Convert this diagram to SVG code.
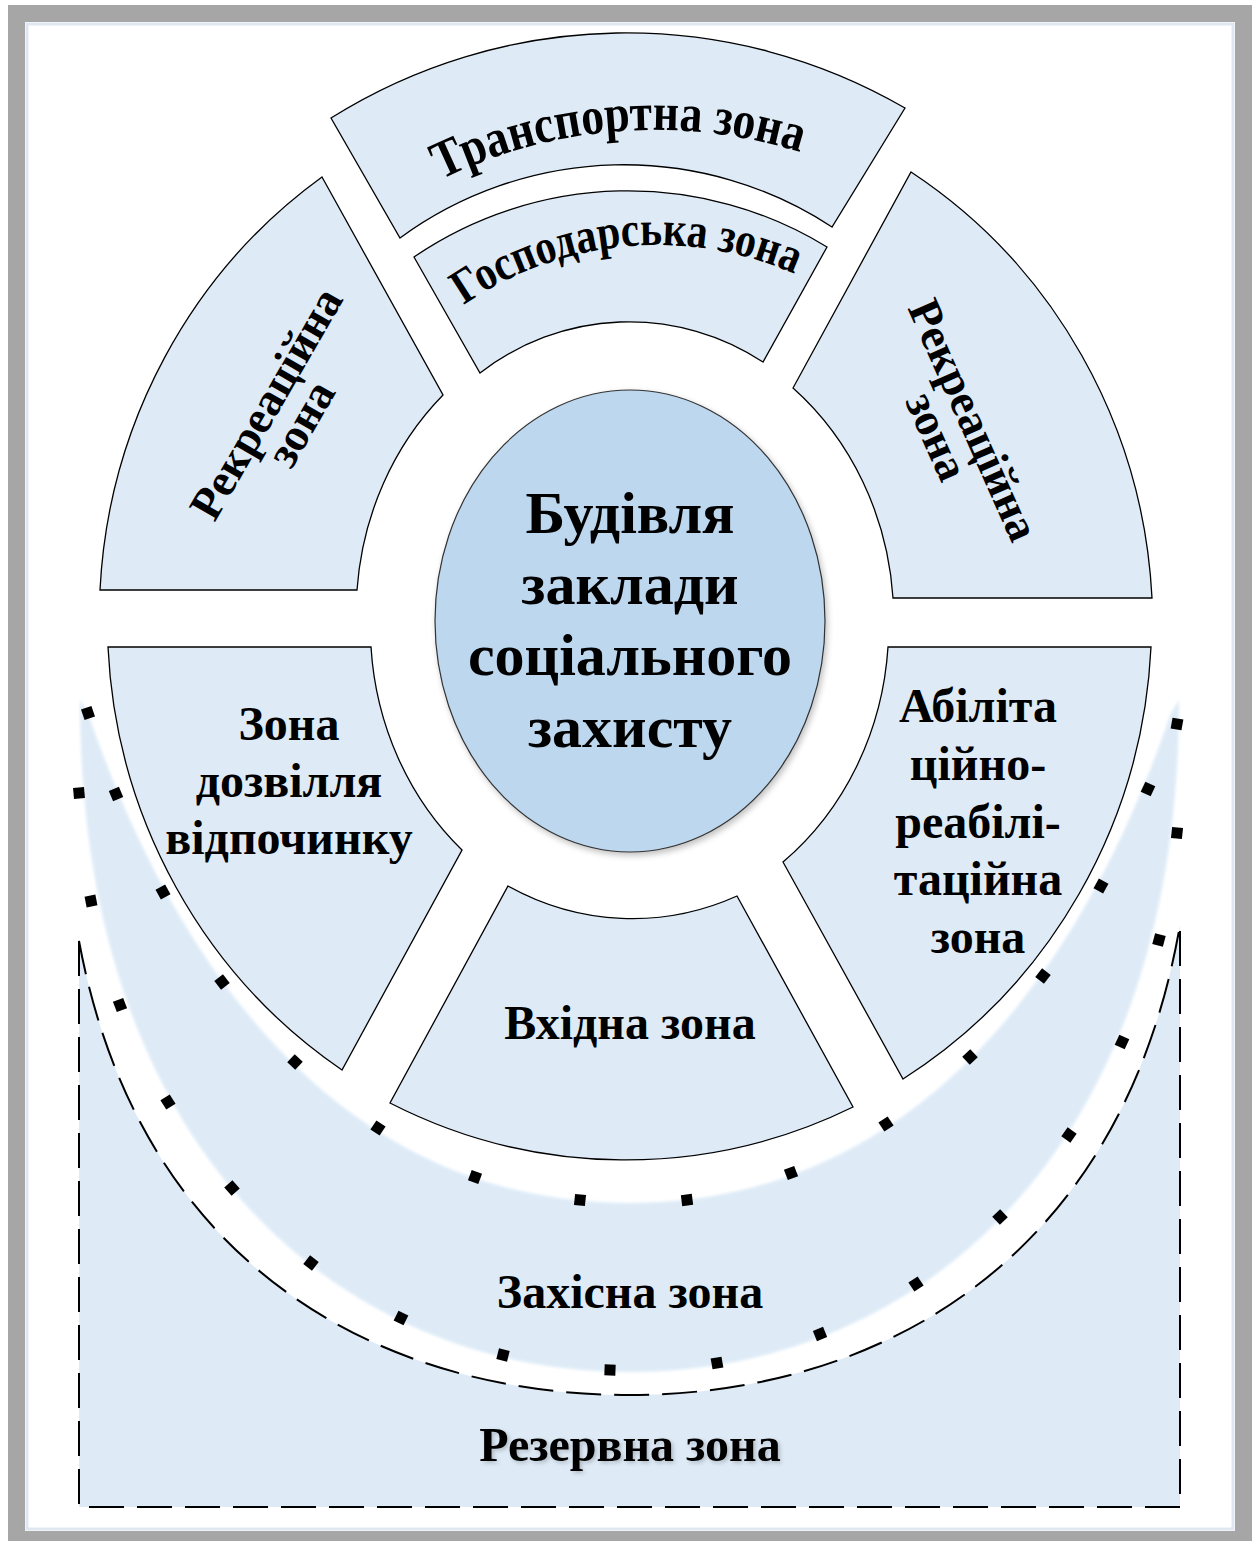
<svg xmlns="http://www.w3.org/2000/svg" xmlns:xlink="http://www.w3.org/1999/xlink" width="1259" height="1541" viewBox="0 0 1259 1541">
  <defs>
    <style>
      .zone { fill: #deebf7; stroke: #000; stroke-width: 1.3; }
      .core { fill: #bdd7ee; stroke: #333; stroke-width: 1.2; }
      .lbl { font-family: "Liberation Serif", "Times New Roman", "DejaVu Serif", serif; font-weight: bold; fill: #000; }
      .mid { text-anchor: middle; }
      .dash { fill: none; stroke: #000; stroke-width: 2; stroke-dasharray: 35 13; }
    </style>
    <rect id="dot" x="-5.5" y="-5.5" width="11" height="11" fill="#000"/>
    <filter id="soft" x="-5%" y="-5%" width="110%" height="110%">
      <feGaussianBlur stdDeviation="1.4"/>
    </filter>
    <filter id="shade" x="-10%" y="-10%" width="120%" height="120%">
      <feGaussianBlur in="SourceAlpha" stdDeviation="3"/>
      <feOffset dx="2" dy="3" result="b"/>
      <feComponentTransfer><feFuncA type="linear" slope="0.25"/></feComponentTransfer>
      <feMerge><feMergeNode/><feMergeNode in="SourceGraphic"/></feMerge>
    </filter>
    <filter id="tshadow" x="-5%" y="-20%" width="110%" height="140%">
      <feGaussianBlur in="SourceAlpha" stdDeviation="2"/>
      <feOffset dx="2" dy="2"/>
      <feComponentTransfer><feFuncA type="linear" slope="0.22"/></feComponentTransfer>
      <feMerge><feMergeNode/><feMergeNode in="SourceGraphic"/></feMerge>
    </filter>
    <!-- baselines for the arched labels -->
    <path id="arcTransport" d="M343.2,243.5 A485,485 0 0 1 966.8,243.5"/>
    <path id="arcHosp" d="M415.2,345.2 A342,342 0 0 1 898.8,345.2"/>
  </defs>

  <!-- page frame -->
  <rect x="0" y="0" width="1259" height="1541" fill="#fff"/>
  <rect x="27" y="24" width="1206" height="1505" fill="none" stroke="#dfe8f2" stroke-width="3"/>
  <rect x="16.5" y="13.5" width="1227" height="1526" fill="none" stroke="#a6a6a6" stroke-width="17"/>

  <!-- reserve zone: rectangle cut by the dashed arc -->
  <g id="reserve">
    <path class="zone dash" style="fill:#deebf7" d="M79,941 L79,1507 L1180,1507 L1180,925 C1121,1265 874,1395 629.5,1395 C385,1395 140,1270 79,941 Z"/>
    <text class="lbl mid" x="630" y="1461" font-size="48" filter="url(#tshadow)">Резервна зона</text>
  </g>

  <!-- protective zone: crescent around the ring -->
  <g id="protective">
    <path fill="#deebf7" filter="url(#soft)" d="M80,700 C80,1159 347,1372 629.5,1372 C912,1372 1179,1159 1179,700 L1171,713 C1119,865 975,1203 629.5,1203 C284,1203 140,865 88,713 Z"/>
    <text class="lbl mid" x="630" y="1308" font-size="48">Захісна зона</text>
  </g>

  <!-- dotted borders of the protective zone -->
  <g id="dots-inner">
    <use xlink:href="#dot" transform="translate(88,713) rotate(71)"/>
    <use xlink:href="#dot" transform="translate(116,794) rotate(67)"/>
    <use xlink:href="#dot" transform="translate(163,892) rotate(61)"/>
    <use xlink:href="#dot" transform="translate(222,982) rotate(52)"/>
    <use xlink:href="#dot" transform="translate(295,1062) rotate(43)"/>
    <use xlink:href="#dot" transform="translate(378,1128) rotate(33)"/>
    <use xlink:href="#dot" transform="translate(475,1177) rotate(20)"/>
    <use xlink:href="#dot" transform="translate(580,1200) rotate(6)"/>
    <use xlink:href="#dot" transform="translate(687,1200) rotate(-7)"/>
    <use xlink:href="#dot" transform="translate(791,1173) rotate(-21)"/>
    <use xlink:href="#dot" transform="translate(886,1124) rotate(-33)"/>
    <use xlink:href="#dot" transform="translate(970,1057) rotate(-43)"/>
    <use xlink:href="#dot" transform="translate(1043,976) rotate(-52)"/>
    <use xlink:href="#dot" transform="translate(1101,886) rotate(-61)"/>
    <use xlink:href="#dot" transform="translate(1148,789) rotate(-65)"/>
    <use xlink:href="#dot" transform="translate(1177,724) rotate(-80)"/>
  </g>
  <g id="dots-outer">
    <use xlink:href="#dot" transform="translate(79,793) rotate(85)"/>
    <use xlink:href="#dot" transform="translate(91,901) rotate(79)"/>
    <use xlink:href="#dot" transform="translate(120,1005) rotate(69)"/>
    <use xlink:href="#dot" transform="translate(168,1102) rotate(58)"/>
    <use xlink:href="#dot" transform="translate(232,1188) rotate(48)"/>
    <use xlink:href="#dot" transform="translate(311,1263) rotate(38)"/>
    <use xlink:href="#dot" transform="translate(401,1318) rotate(26)"/>
    <use xlink:href="#dot" transform="translate(503,1355) rotate(14)"/>
    <use xlink:href="#dot" transform="translate(610,1370) rotate(2)"/>
    <use xlink:href="#dot" transform="translate(717,1363) rotate(-10)"/>
    <use xlink:href="#dot" transform="translate(820,1334) rotate(-22)"/>
    <use xlink:href="#dot" transform="translate(916,1284) rotate(-33)"/>
    <use xlink:href="#dot" transform="translate(1000,1217) rotate(-44)"/>
    <use xlink:href="#dot" transform="translate(1069,1135) rotate(-55)"/>
    <use xlink:href="#dot" transform="translate(1122,1042) rotate(-65)"/>
    <use xlink:href="#dot" transform="translate(1159,940) rotate(-75)"/>
    <use xlink:href="#dot" transform="translate(1177,833) rotate(-84)"/>
  </g>

  <!-- ring of functional zones -->
  <g id="transport">
    <path class="zone" d="M331,118 A555,555 0 0 1 905,108 L832,227 A379,379 0 0 0 400,238 Z"/>
    <text class="lbl" font-size="53"><textPath xlink:href="#arcTransport" startOffset="117" textLength="369" lengthAdjust="spacingAndGlyphs">Транспортна зона</textPath></text>
  </g>
  <g id="household">
    <path class="zone" d="M414,257 A380,380 0 0 1 827,247 L763,362 A243,243 0 0 0 480,373 Z"/>
    <text class="lbl" font-size="49"><textPath xlink:href="#arcHosp" startOffset="63" textLength="347" lengthAdjust="spacingAndGlyphs">Господарська зона</textPath></text>
  </g>
  <g id="recreation-left">
    <path class="zone" d="M322,177 L443,395 A274,299 0 0 0 357,590 L100,590 A527,540 0 0 1 322,177 Z"/>
    <g transform="translate(281,412) rotate(-60)">
      <text class="lbl mid" x="0" y="-2" font-size="46">Рекреаційна</text>
      <text class="lbl mid" x="0" y="38" font-size="46">зона</text>
    </g>
  </g>
  <g id="recreation-right">
    <path class="zone" d="M911,172 A527,540 0 0 1 1152,598 L893,598 A274,299 0 0 0 793,388 Z"/>
    <g transform="translate(958,427) rotate(66)">
      <text class="lbl mid" x="0" y="-2" font-size="46">Рекреаційна</text>
      <text class="lbl mid" x="0" y="38" font-size="46">зона</text>
    </g>
  </g>
  <g id="leisure">
    <path class="zone" d="M108,647 L371,647 A274,299 0 0 0 462,850 L342,1070 A527,540 0 0 1 108,647 Z"/>
    <text class="lbl mid" font-size="48"><tspan x="289" y="740">Зона</tspan><tspan x="289" y="797">дозвілля</tspan><tspan x="289" y="854">відпочинку</tspan></text>
  </g>
  <g id="habilitation">
    <path class="zone" d="M888,647 L1151,647 A527,540 0 0 1 903,1079 L783,862 A274,299 0 0 0 888,647 Z"/>
    <text class="lbl mid" font-size="48"><tspan x="978" y="722">Абіліта</tspan><tspan x="978" y="780">ційно-</tspan><tspan x="978" y="838">реабілі-</tspan><tspan x="978" y="895">таційна</tspan><tspan x="978" y="953">зона</tspan></text>
  </g>
  <g id="entrance">
    <path class="zone" d="M508,886 A274,299 0 0 0 737,896 L853,1107 A527,540 0 0 1 390,1103 Z"/>
    <text class="lbl mid" x="630" y="1039" font-size="48">Вхідна зона</text>
  </g>

  <!-- central building -->
  <g id="building">
    <ellipse class="core" cx="630" cy="621" rx="195" ry="231" filter="url(#shade)"/>
    <text class="lbl mid" font-size="60"><tspan x="630" y="533">Будівля</tspan><tspan x="630" y="604">заклади</tspan><tspan x="630" y="675">соціального</tspan><tspan x="630" y="747">захисту</tspan></text>
  </g>
</svg>
